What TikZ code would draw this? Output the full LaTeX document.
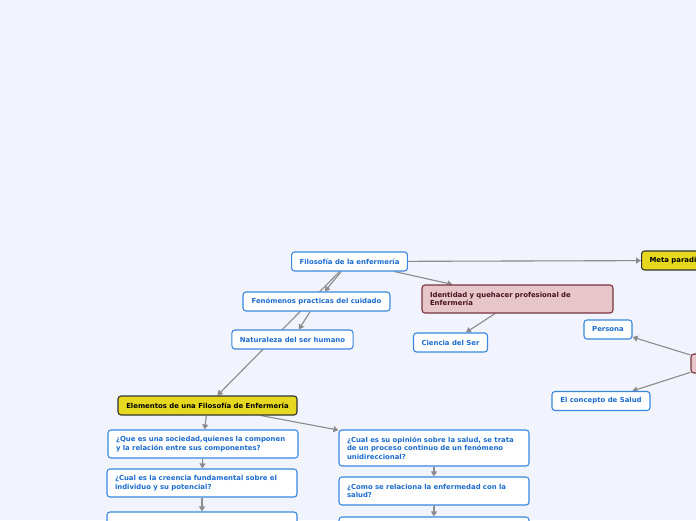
\documentclass[tikz,border=0pt]{standalone}
\usepackage{fontspec}
\setmainfont{DejaVu Sans}
\usetikzlibrary{arrows.meta, positioning, backgrounds}
\definecolor{Fondo}{HTML}{F1F4FD}
\definecolor{BordeAzul}{HTML}{3A87DE}
\definecolor{TextoAzul}{HTML}{1C6CCF}
\definecolor{RosaFondo}{HTML}{E6C6CB}
\definecolor{RosaBorde}{HTML}{7A3440}
\definecolor{RosaTexto}{HTML}{4A0F1E}
\definecolor{Amarillo}{HTML}{E6D81E}
\definecolor{Linea}{HTML}{8C8C8C}

\begin{document}
\begin{tikzpicture}[x=1pt, y=-1pt,
  azl/.style={rectangle, rounded corners=3pt, draw=BordeAzul, line width=1.1pt,
    fill=white, text=TextoAzul, minimum height=19pt, inner xsep=8pt, inner ysep=3pt,
    font=\fontsize{6.9}{8.7}\selectfont\bfseries},
  azm/.style={azl, text width=174pt, align=left, minimum height=28pt},
  ros/.style={rectangle, rounded corners=3pt, draw=RosaBorde, line width=1.1pt,
    fill=RosaFondo, text=RosaTexto, minimum height=19pt, inner xsep=8pt, inner ysep=3pt,
    font=\fontsize{6.9}{8.7}\selectfont\bfseries},
  ama/.style={rectangle, rounded corners=3pt, draw=black!80, line width=1.1pt,
    fill=Amarillo, text=black, minimum height=19pt, inner xsep=8pt, inner ysep=3pt,
    font=\fontsize{6.9}{8.7}\selectfont\bfseries},
  fl/.style={-{Triangle[length=5pt, width=6pt]}, draw=Linea, fill=Linea, line width=1.1pt}
]
\useasboundingbox (0,0) rectangle (696,520);
\clip (0,0) rectangle (696,520);

%% ── Filosofía (centro) ───────────────────────────────────────────────
\node[azl, minimum width=115pt] (FIL) at (349.5,261.5) {Filosofía de la enfermería};
\node[azl, minimum width=147pt] (FEN) at (316.5,301.5) {Fenómenos practicas del cuidado};
\node[azl, minimum width=121pt] (NAT) at (292.5,339.5) {Naturaleza del ser humano};

%% ── Identidad ─────────────────────────────────────────────────────────
\node[ros, text width=175pt, align=left, minimum height=28pt] (IDE) at (517.5,299) {
  Identidad y quehacer profesional de\\Enfermería};
\node[azl, minimum width=73pt] (CIE) at (450.5,342.5) {Ciencia del Ser};

%% ── Meta paradigma (derecha) ──────────────────────────────────────────
\node[ama, anchor=west] (MET) at (641,260.5) {Meta paradigma};
\node[ros, minimum width=54pt] (MPR) at (718,363.5) {};
\node[azl, minimum width=48pt] (PER) at (608,329.5) {Persona};
\node[azl, minimum width=98pt] (SAL) at (601,401) {El concepto de Salud};

%% ── Elementos (columna izquierda) ─────────────────────────────────────
\node[ama, minimum width=179pt] (ELE) at (207.5,405.5) {Elementos de una Filosofía de Enfermería};
\node[azm] (SOC) at (203,444) {
  ¿Que es una sociedad,quienes la componen\\y la relación entre sus componentes?};
\node[azm] (CRE) at (202,483) {
  ¿Cual es la creencia fundamental sobre el\\individuo y su potencial?};
\node[azm] (IZ3) at (202,526) {};

%% ── Elementos (columna derecha) ───────────────────────────────────────
\node[azm, minimum height=36pt] (OPI) at (434,448) {
  ¿Cual es su opinión sobre la salud, se trata\\de un proceso continuo de un fenómeno\\unidireccional?};
\node[azm] (ENF) at (434,491) {
  ¿Como se relaciona la enfermedad con la\\salud?};
\node[azm] (DE3) at (434,531) {};

%% ── Conectores ────────────────────────────────────────────────────────
\begin{pgfonlayer}{background}
\fill[Fondo] (0,0) rectangle (696,520);
\draw[fl] (FIL) -- (MET);
\draw[fl] (FIL) -- (IDE);
\draw[fl] (FIL) -- (FEN);
\draw[fl] (FIL) -- (ELE);
\draw[fl] (FEN) -- (NAT);
\draw[fl] (IDE) -- (CIE);
\draw[fl] (MPR) -- (PER);
\draw[fl] (MPR) -- (SAL);
\draw[fl] (ELE) -- (SOC);
\draw[fl] (ELE) -- (OPI);
\draw[fl] (SOC) -- (CRE);
\draw[fl] (CRE) -- (IZ3);
\draw[fl] (OPI) -- (ENF);
\draw[fl] (ENF) -- (DE3);
\end{pgfonlayer}

\end{tikzpicture}
\end{document}
